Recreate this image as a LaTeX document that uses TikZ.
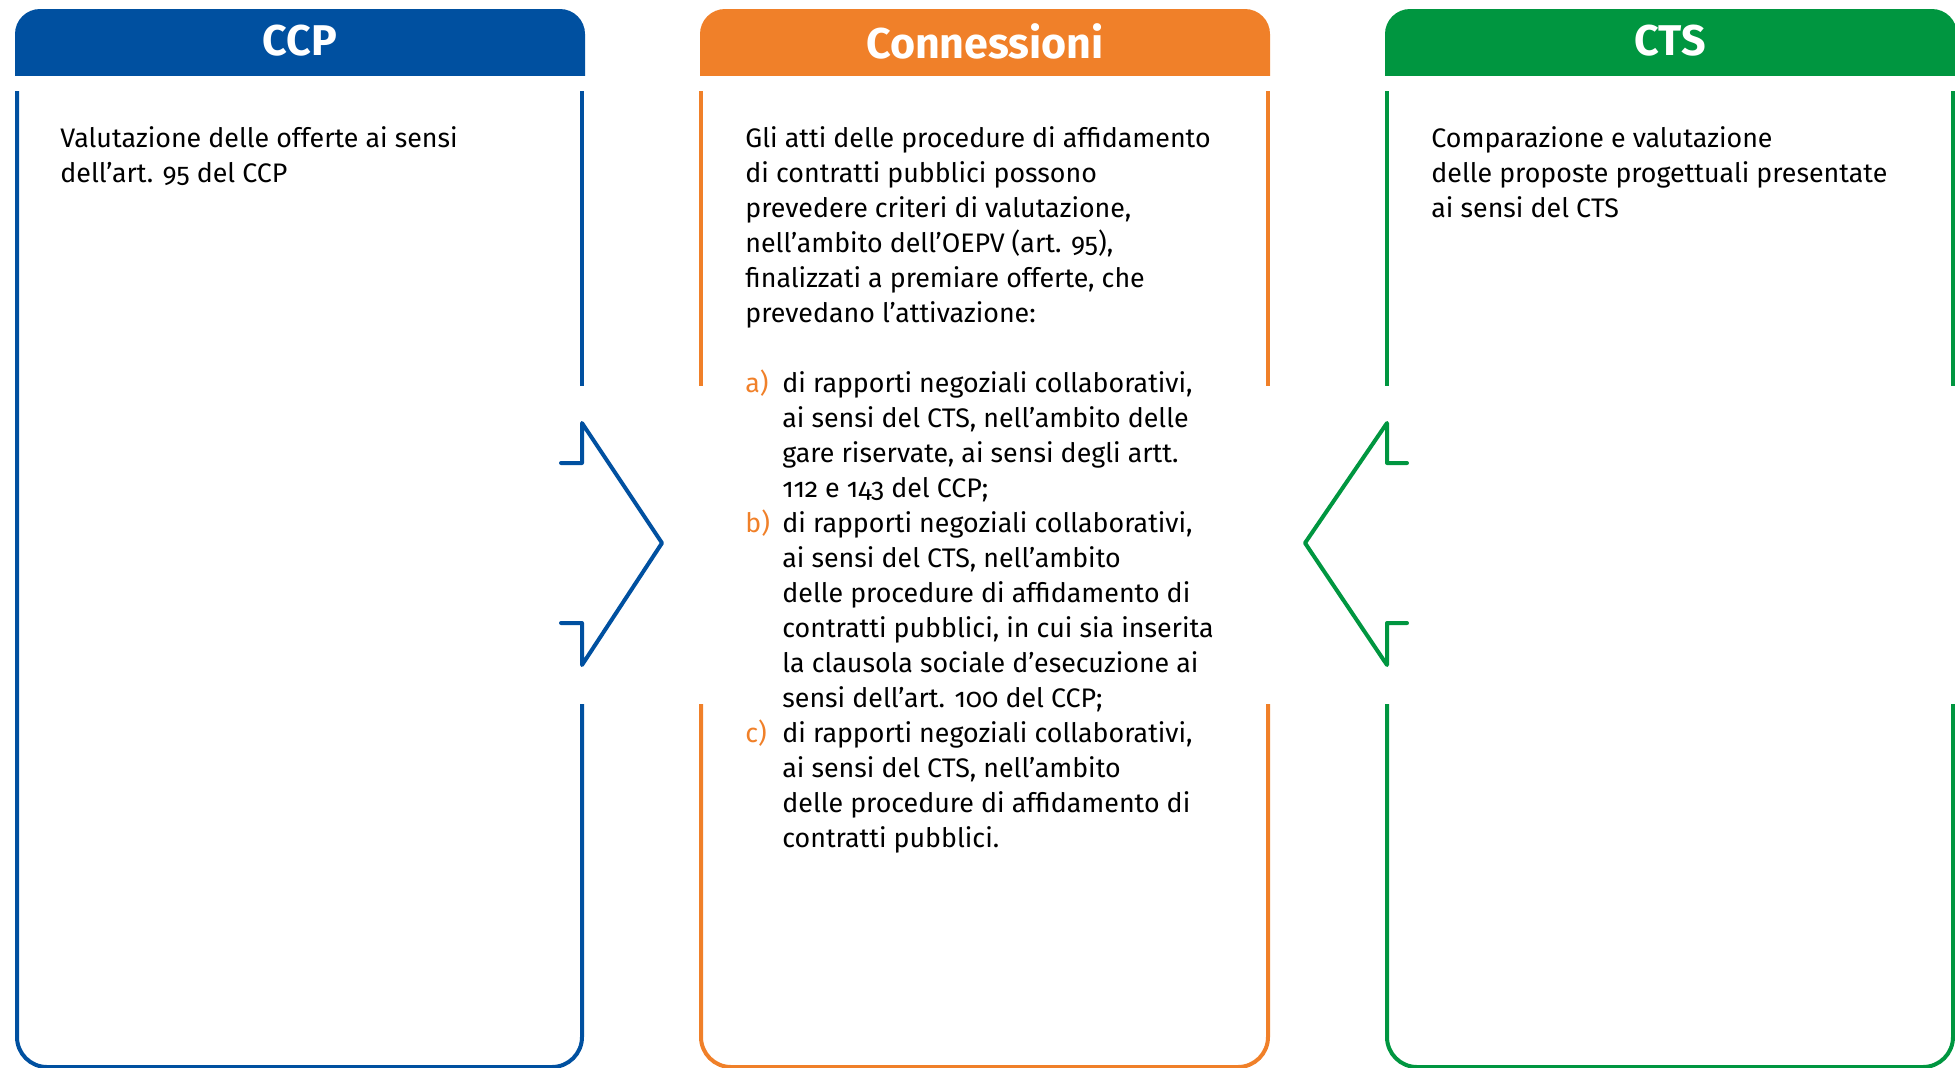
\documentclass[tikz,border=0pt]{standalone}
\usepackage{fontspec}
\setmainfont{Fira Sans}[Numbers=OldStyle]
\definecolor{ccpblue}{RGB}{0,80,160}
\definecolor{connorange}{RGB}{240,128,41}
\definecolor{ctsgreen}{RGB}{0,150,64}
\newcommand{\itemlabel}[1]{\textcolor{connorange}{#1}}
\tikzset{
  headbox/.style={rounded corners=12.5pt},
  headtext/.style={text=white, font=\fontsize{21.5}{25}\selectfont\bfseries},
  bodytext/.style={anchor=north west, inner sep=0pt, font=\fontsize{13.4}{17.5}\selectfont},
  panelline/.style={line width=2pt, rounded corners=15pt},
  arrowline/.style={line width=2pt, line join=round, line cap=round}
}
\begin{document}
\begin{tikzpicture}[x=0.5pt,y=-0.5pt]
\useasboundingbox (0,0) rectangle (1955,1067);

% headers
\begin{scope}
  \clip (0,0) rectangle (1955,75);
  \fill[ccpblue,headbox] (15,9) rectangle (585,140);
  \fill[connorange,headbox] (700,9) rectangle (1270,140);
  \fill[ctsgreen,headbox] (1385,9) rectangle (1957,140);
\end{scope}
\node[headtext] (ccp) at (300,41) {CCP};
\node[headtext] (conn) at (985,41) {Connessioni};
\node[headtext] (cts) at (1670,41) {CTS};

% panel borders
\draw[ccpblue,panelline] (582,704) -- (582,1067) -- (17,1067) -- (17,91);
\draw[ccpblue,panelline] (582,91) -- (582,386);
\draw[connorange,panelline] (701,91) -- (701,386);
\draw[connorange,panelline] (701,704) -- (701,1067) -- (1268,1067) -- (1268,704);
\draw[connorange,panelline] (1268,91) -- (1268,386);
\draw[ctsgreen,panelline] (1387,91) -- (1387,386);
\draw[ctsgreen,panelline] (1387,704) -- (1387,1067) -- (1953,1067) -- (1953,704);
\draw[ctsgreen,panelline] (1953,91) -- (1953,386);

% arrows
\draw[ccpblue,arrowline] (561,463) -- (582,463) -- (582,423) -- (662,543)
  -- (582,665) -- (582,623) -- (561,623);
\draw[ctsgreen,arrowline] (1407,463) -- (1387,463) -- (1387,423) -- (1305,543)
  -- (1387,665) -- (1387,623) -- (1407,623);

% texts
\node[bodytext] (ccptext) at (60,122.5) {\begin{tabular}{@{}l@{}}
  Valutazione delle offerte ai sensi\\
  dell’art. 95 del CCP
\end{tabular}};

\node[bodytext] (conntext) at (745,122.5) {\begin{tabular}{@{}p{18.5pt}@{}l@{}}
  \multicolumn{2}{@{}l@{}}{Gli atti delle procedure di affidamento}\\
  \multicolumn{2}{@{}l@{}}{di contratti pubblici possono}\\
  \multicolumn{2}{@{}l@{}}{prevedere criteri di valutazione,}\\
  \multicolumn{2}{@{}l@{}}{nell’ambito dell’OEPV (art. 95),}\\
  \multicolumn{2}{@{}l@{}}{finalizzati a premiare offerte, che}\\
  \multicolumn{2}{@{}l@{}}{prevedano l’attivazione:}\\
  & \\
  \itemlabel{a)} & di rapporti negoziali collaborativi,\\
  & ai sensi del CTS, nell’ambito delle\\
  & gare riservate, ai sensi degli artt.\\
  & 112 e 143 del CCP;\\
  \itemlabel{b)} & di rapporti negoziali collaborativi,\\
  & ai sensi del CTS, nell’ambito\\
  & delle procedure di affidamento di\\
  & contratti pubblici, in cui sia inserita\\
  & la clausola sociale d’esecuzione ai\\
  & sensi dell’art. 100 del CCP;\\
  \itemlabel{c)} & di rapporti negoziali collaborativi,\\
  & ai sensi del CTS, nell’ambito\\
  & delle procedure di affidamento di\\
  & contratti pubblici.
\end{tabular}};

\node[bodytext] (ctstext) at (1431,122.5) {\begin{tabular}{@{}l@{}}
  Comparazione e valutazione\\
  delle proposte progettuali presentate\\
  ai sensi del CTS
\end{tabular}};
\end{tikzpicture}
\end{document}
